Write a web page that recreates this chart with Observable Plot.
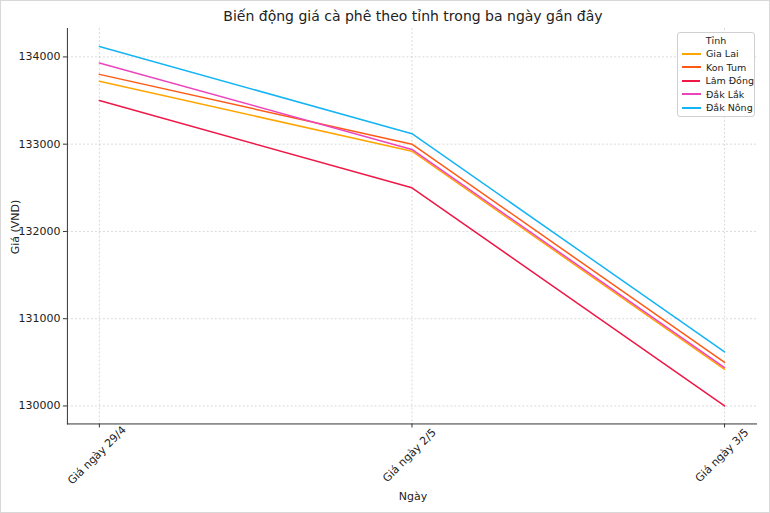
<!DOCTYPE html>
<html>
<head>
<meta charset="utf-8">
<script src="https://cdn.jsdelivr.net/npm/d3@7"></script>
<script src="https://cdn.jsdelivr.net/npm/@observablehq/plot@0.6"></script>
<style>
  html, body { margin: 0; padding: 0; background: white; }
  #wrap { position: relative; width: 770px; height: 513px; box-sizing: border-box; border: 1px solid #d8d8d8; overflow: hidden; font-family: "DejaVu Sans", sans-serif; color: #222; }
  #chart { position: absolute; left: -1px; top: -1px; }
  .title { position: absolute; top: 7px; left: 67px; width: 690px; text-align: center; font-size: 14px; }
  .ylab { position: absolute; left: 14px; top: 226px; transform: translate(-50%, -50%) rotate(-90deg); font-size: 11px; white-space: nowrap; }
  .xlab { position: absolute; top: 489px; left: 67px; width: 690px; text-align: center; font-size: 11px; }
  .legend { position: absolute; left: 676px; top: 31px; width: 78px; height: 85px; box-sizing: border-box; border: 1px solid #d0d0d0; border-radius: 3px; background: rgba(255,255,255,0.85); font-size: 9.5px; }
  .legend .lt { text-align: center; margin-top: 1px; height: 13px; line-height: 13px; }
  .legend .row { height: 13.5px; line-height: 13.5px; display: flex; align-items: center; white-space: nowrap; }
  .legend .sw { display: inline-block; width: 19px; height: 2px; margin-left: 4px; margin-right: 5px; }
</style>
</head>
<body>
<div id="wrap">
  <div id="chart"></div>
  <div class="title">Biến động giá cà phê theo tỉnh trong ba ngày gần đây</div>
  <div class="ylab">Giá (VND)</div>
  <div class="xlab">Ngày</div>
  <div class="legend" id="legend"></div>
</div>
<script>
const days = ["Giá ngày 29/4", "Giá ngày 2/5", "Giá ngày 3/5"];
const provinces = ["Gia Lai", "Kon Tum", "Lâm Đồng", "Đắk Lắk", "Đắk Nông"];
const colors = ["#ffa500", "#ff5a14", "#ee1746", "#ee44bb", "#14b4f5"];
const giaLai = [133720, 132920, 130420];
const konTum = [133800, 133000, 130500];
const lamDong = [133500, 132500, 130000];
const dakLak = [133930, 132940, 130440];
const dakNong = [134120, 133120, 130620];
const yTicks = [130000, 131000, 132000, 133000, 134000];
const legendTitle = "Tỉnh";

const series = [giaLai, konTum, lamDong, dakLak, dakNong];
const data = [];
provinces.forEach((p, i) => days.forEach((d, j) => data.push({province: p, day: d, price: series[i][j]})));

const allVals = series.flat();
const lo = d3.min(allVals), hi = d3.max(allVals), pad = (hi - lo) * 0.05;

const grid = {stroke: "#b0b0b0", strokeOpacity: 0.6, strokeDasharray: "2,2", strokeWidth: 0.8};

const chart = Plot.plot({
  width: 770, height: 513,
  marginLeft: 67, marginRight: 13, marginTop: 28, marginBottom: 89,
  style: {fontFamily: "DejaVu Sans, sans-serif", fontSize: "11px", color: "#222", background: "transparent"},
  x: {type: "point", domain: days, padding: 0.1, axis: null},
  y: {domain: [lo - pad, hi + pad], axis: null},
  color: {domain: provinces, range: colors},
  marks: [
    Plot.gridX(days, grid),
    Plot.gridY(yTicks, grid),
    Plot.axisY(yTicks, {tickSize: 4, tickPadding: 3, tickFormat: d => String(d), label: null, fontSize: 11, stroke: "#333"}),
    Plot.axisX(days, {tickSize: 4, tickFormat: () => "", label: null, stroke: "#333"}),
    Plot.text(days, {x: d => d, text: d => d, frameAnchor: "bottom", dy: 34, rotate: -45, fontSize: 11, fill: "#222"}),
    Plot.lineY(data, {x: "day", y: "price", stroke: "province", z: "province", strokeWidth: 1.5}),
    Plot.frame({anchor: "left", stroke: "#333"}),
    Plot.frame({anchor: "bottom", stroke: "#333"})
  ]
});
document.getElementById("chart").appendChild(chart);

const leg = document.getElementById("legend");
leg.innerHTML = `<div class="lt">${legendTitle}</div>` + provinces.map((p, i) =>
  `<div class="row"><span class="sw" style="background-color:${colors[i]}"></span><span>${p}</span></div>`).join("");
</script>
</body>
</html>
